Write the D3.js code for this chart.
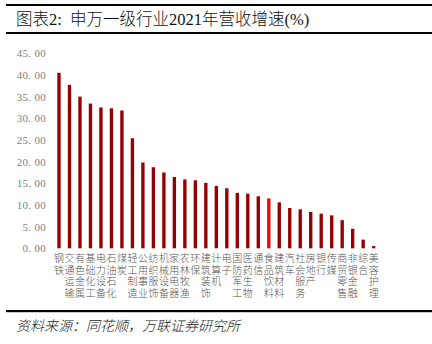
<!DOCTYPE html>
<html>
<head>
<meta charset="utf-8">
<script src="https://cdn.jsdelivr.net/npm/d3@7"></script>
<style>
  html, body { margin: 0; padding: 0; background: #fff; }
  svg { display: block; }
  .cat { writing-mode: vertical-rl; text-orientation: upright; }
</style>
</head>
<body>
<svg id="chart" width="432" height="344"></svg>
<script>
// 申万一级行业 2021 年营收增速 (%)
const industries = [
  "钢铁", "交通运输", "有色金属", "基础化工", "电力设备", "石油石化", "煤炭", "轻工制造",
  "公用事业", "纺织服饰", "机械设备", "家用电器", "农林牧渔", "环保", "建筑装饰", "计算机",
  "电子", "国防军工", "医药生物", "通信", "食品饮料", "建筑材料", "汽车", "社会服务",
  "房地产", "银行", "传媒", "商贸零售", "非银金融", "综合", "美容护理"
];
const growth = [
  40.5, 37.7, 35.0, 33.4, 32.5, 32.3, 31.8, 25.4,
  19.8, 18.7, 17.5, 16.45, 15.9, 15.7, 15.1, 14.4,
  13.85, 12.8, 12.6, 12.0, 11.5, 10.6, 9.3, 9.0,
  8.4, 8.0, 7.6, 6.5, 4.5, 2.0, 0.5
];
const highlighted = ["食品饮料"];
const yTicks = [0, 5, 10, 15, 20, 25, 30, 35, 40, 45];

const svg = d3.select("#chart");
const W = 432;

const serifCJK = '"Liberation Serif", "Noto Sans CJK SC", serif';

// Header rules and title
svg.append("rect").attr("x", 6).attr("y", 4).attr("width", W - 6).attr("height", 2).attr("fill", "#000");
svg.append("rect").attr("x", 6).attr("y", 32).attr("width", W - 6).attr("height", 2).attr("fill", "#000");
svg.append("text")
  .attr("x", 16).attr("y", 25)
  .attr("font-family", serifCJK)
  .attr("font-size", 16.5)
  .attr("font-weight", 300)
  .attr("fill", "#111")
  .attr("xml:space", "preserve")
  .text("图表2:  申万一级行业2021年营收增速(%)");

// Footer rule and source
svg.append("rect").attr("x", 6).attr("y", 310).attr("width", W - 6).attr("height", 2.2).attr("fill", "#000");
svg.append("text")
  .attr("x", 16).attr("y", 331)
  .attr("font-family", serifCJK)
  .attr("font-size", 14)
  .attr("font-weight", 300)
  .attr("font-style", "italic")
  .attr("fill", "#222")
  .text("资料来源：同花顺，万联证券研究所");

// Scales
const x = d3.scaleBand()
  .domain(industries)
  .range([53.75, 378.9])
  .paddingInner(0.68)
  .paddingOuter(0.34);

const y = d3.scaleLinear()
  .domain([0, 45])
  .range([248.3, 53.3]);

// Y axis labels (no axis line)
const yAxis = d3.axisLeft(y)
  .tickValues(yTicks)
  .tickSize(0)
  .tickPadding(0)
  .tickFormat(d => d.toFixed(2).replace(".", ". "));

const gy = svg.append("g")
  .attr("transform", "translate(46,0)")
  .call(yAxis);
gy.select(".domain").remove();
gy.selectAll("text")
  .attr("font-family", '"Liberation Serif", serif')
  .attr("font-size", 11)
  .attr("fill", "#808080")
  .attr("letter-spacing", 0.3);

// Bars
svg.append("g")
  .selectAll("rect")
  .data(industries.map((name, i) => ({ name, value: growth[i] })))
  .join("rect")
  .attr("x", d => x(d.name))
  .attr("y", d => y(d.value))
  .attr("width", x.bandwidth())
  .attr("height", d => y(0) - y(d.value))
  .attr("fill", d => highlighted.includes(d.name) ? "#ff0000" : "#960000");

// Category labels, set vertically (one character per line)
svg.append("g")
  .selectAll("text")
  .data(industries)
  .join("text")
  .attr("class", "cat")
  .attr("x", d => x(d) + x.bandwidth() / 2)
  .attr("y", 253.5)
  .attr("font-family", '"Noto Sans CJK SC", sans-serif')
  .attr("font-size", 10)
  .attr("font-weight", 300)
  .attr("letter-spacing", 1.6)
  .attr("fill", "#555")
  .text(d => d);
</script>
</body>
</html>
